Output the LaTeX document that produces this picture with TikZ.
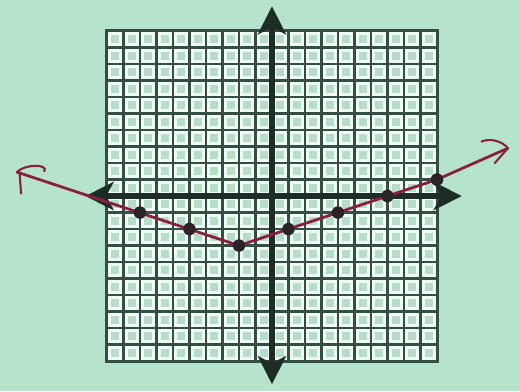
\documentclass[tikz,border=0pt]{standalone}
\usetikzlibrary{arrows.meta}

\definecolor{paper}{RGB}{182,227,204}
\definecolor{gridink}{RGB}{52,78,66}
\definecolor{axisink}{RGB}{30,44,38}
\definecolor{cellring}{RGB}{238,252,243}
\definecolor{cellcore}{RGB}{182,221,199}
\definecolor{penred}{RGB}{138,32,62}
\definecolor{dotink}{RGB}{42,36,40}

\tikzset{
  axisline/.style={line width=5.5pt, axisink},
  graphline/.style={line width=2.4pt, penred, line cap=round, line join=round},
  hookline/.style={line width=1.8pt, penred, line cap=round},
  plotdot/.style={dotink}
}

\begin{document}
\begin{tikzpicture}[scale=0.5, >={Stealth[length=8.5mm, width=8.5mm, inset=2.2mm]}]
        % ==== PAPER ====
        \useasboundingbox (-16.48,-11.82) rectangle (15.03,11.88);
        \fill[paper] (-16.48,-11.82) rectangle (15.03,11.88);
        % ==== GRID ====
        \fill[gridink] (-10.1,-10.1) rectangle (10.1,10.1);
        \foreach \i in {-10,...,9}
          \foreach \j in {-10,...,9} {
            \fill[cellring] (\i+0.085,\j+0.085) rectangle (\i+0.915,\j+0.915);
            \fill[cellcore] (\i+0.26,\j+0.26) rectangle (\i+0.74,\j+0.74);
          }
        % ==== AXES ====
        \draw[<->, axisline] (-11.3,0) -- (11.5,0);
        \draw[<->, axisline] (0,-11.4) -- (0,11.5);
        % ==== ABSOLUTE VALUE GRAPH y = |x+2|/3 - 3 ====
        \coordinate (lefttip) at (-15.45,1.45);
        \coordinate (vertex) at (-2,-3);
        \coordinate (rightbend) at (10,1);
        \coordinate (righttip) at (14.3,2.9);
        \draw[graphline] (lefttip) -- (vertex) -- (rightbend) -- (righttip);
        % hand drawn arrow ends
        \draw[hookline] (lefttip) .. controls (-15.0,1.95) and (-13.5,1.95) .. (-13.8,1.5);
        \draw[hookline] (lefttip) ++(0.15,0) -- ++(0.1,-1.3);
        \draw[hookline] (righttip) .. controls (13.9,3.4) and (13.1,3.5) .. (12.7,3.3);
        \draw[hookline] (righttip) -- (13.5,2.0);
        % ==== POINTS ====
        \foreach \x in {-8,-5,-2,1,4,7,10}
          \fill[plotdot] ({\x},{abs(\x+2)/3-3}) circle (0.38);
     \end{tikzpicture}
\end{document}
